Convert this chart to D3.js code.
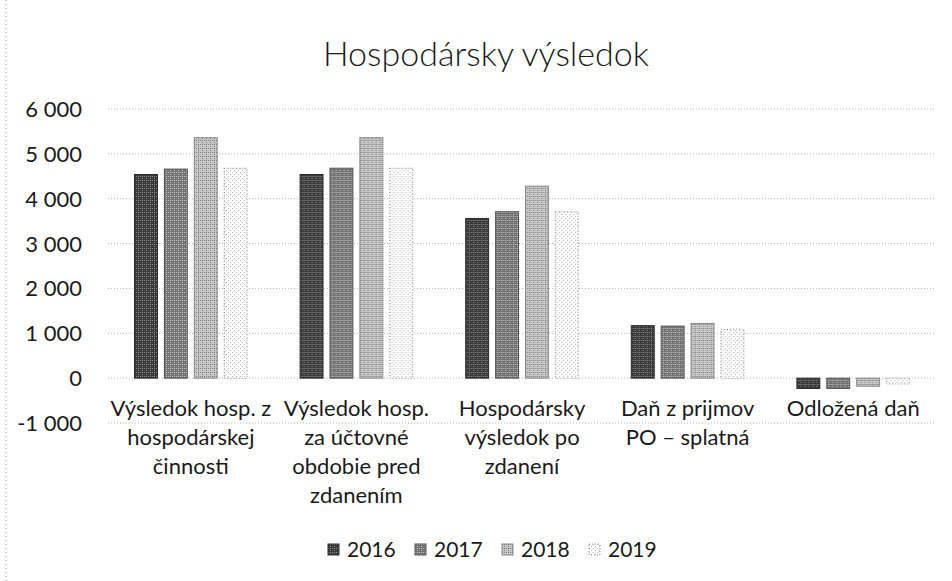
<!DOCTYPE html>
<html>
  <head>
    <meta charset="utf-8">
    <title>Hospodársky výsledok</title>
    <script src="https://cdnjs.cloudflare.com/ajax/libs/d3/7.8.5/d3.min.js"></script>
    <style>
      body { margin: 0; background: #fff; }
      text { font-family: Lato, "Open Sans", sans-serif; fill: #1a1a1a; }
      .grid line { stroke: #b5b5b5; stroke-dasharray: 1,2; }
    </style>
  </head>
  <body>
    <div id="chart"></div>
    <script>
      // data
      var years = ['2016', '2017', '2018', '2019'];
      var categoryLines = [
        ['Výsledok hosp. z', 'hospodárskej', 'činnosti'],
        ['Výsledok hosp.', 'za účtovné', 'obdobie pred', 'zdanením'],
        ['Hospodársky', 'výsledok po', 'zdanení'],
        ['Daň z prijmov', 'PO – splatná'],
        ['Odložená daň']
      ];
      var values2016 = [4540, 4540, 3560, 1170, -230];
      var values2017 = [4660, 4680, 3710, 1160, -230];
      var values2018 = [5360, 5360, 4280, 1220, -180];
      var values2019 = [4680, 4680, 3710, 1090, -130];
      var yTicks = [-1000, 0, 1000, 2000, 3000, 4000, 5000, 6000];

      var width = 952, height = 581;
      var plotLeft = 108, plotRight = 936, plotTop = 109, plotBottom = 423;

      var series = [values2016, values2017, values2018, values2019];
      var categories = categoryLines.map(function(l) { return l.join(' '); });

      var svg = d3.select('#chart').append('svg')
        .attr('width', width)
        .attr('height', height);

      // scan-like textures for the four years
      var defs = svg.append('defs');
      var pats = [
        { base: '#3a3a3a', dot: '#8c8c8c' },
        { base: '#737373', dot: '#c4c4c4' },
        { base: '#c6c6c6', dot: '#7c7c7c' },
        { base: '#ffffff', dot: '#b0b0b0' }
      ];
      pats.forEach(function(p, i) {
        var pat = defs.append('pattern')
          .attr('id', 'pat' + i)
          .attr('patternUnits', 'userSpaceOnUse')
          .attr('width', 4).attr('height', 4);
        pat.append('rect').attr('width', 4).attr('height', 4).attr('fill', p.base);
        pat.append('rect').attr('x', 0).attr('y', 0).attr('width', 1).attr('height', 1).attr('fill', p.dot);
        pat.append('rect').attr('x', 2).attr('y', 2).attr('width', 1).attr('height', 1).attr('fill', p.dot);
        if (i < 3) {
          pat.append('rect').attr('x', 2).attr('y', 0).attr('width', 1).attr('height', 1).attr('fill', p.dot);
        }
      });
      var strokes = ['#2a2a2a', '#555', '#888', '#8a8a8a'];

      // chart border (only the left edge shows on the scan)
      svg.append('line')
        .attr('x1', 6).attr('x2', 6).attr('y1', 0).attr('y2', height)
        .attr('stroke', '#9a9a9a').attr('stroke-dasharray', '1,3');

      var x0 = d3.scaleBand().domain(categories).range([plotLeft, plotRight]);
      var x1 = d3.scaleBand().domain(years)
        .range([x0.bandwidth() * 0.16, x0.bandwidth() * 0.84])
        .paddingInner(0.233);
      var y = d3.scaleLinear().domain([-1000, 6000]).range([plotBottom, plotTop]);

      var fmt = d3.formatLocale({ decimal: ',', thousands: ' ', grouping: [3], currency: ['', ''], minus: '-' }).format(',');

      // gridlines
      svg.append('g').attr('class', 'grid')
        .selectAll('line').data(yTicks).enter().append('line')
        .attr('x1', plotLeft).attr('x2', plotRight)
        .attr('y1', function(d) { return y(d); })
        .attr('y2', function(d) { return y(d); });

      // y labels
      svg.append('g').selectAll('text').data(yTicks).enter().append('text')
        .attr('x', 82)
        .attr('y', function(d) { return y(d) + 8; })
        .attr('text-anchor', 'end')
        .style('font-size', '22px')
        .text(fmt);

      // bars
      var groups = svg.append('g').selectAll('g').data(categories).enter().append('g')
        .attr('transform', function(d) { return 'translate(' + x0(d) + ',0)'; });

      groups.selectAll('rect')
        .data(function(c, ci) {
          return years.map(function(yr, si) { return { year: yr, si: si, v: series[si][ci] }; });
        })
        .enter().append('rect')
        .attr('x', function(d) { return x1(d.year); })
        .attr('width', x1.bandwidth())
        .attr('y', function(d) { return y(Math.max(0, d.v)); })
        .attr('height', function(d) { return Math.abs(y(d.v) - y(0)); })
        .attr('fill', function(d) { return 'url(#pat' + d.si + ')'; })
        .attr('stroke', function(d) { return strokes[d.si]; })
        .attr('stroke-width', 1)
        .attr('stroke-dasharray', function(d) { return d.si === 3 ? '1,2' : null; });

      // category labels, wrapped as on the picture
      var cat = svg.append('g').selectAll('text').data(categoryLines).enter().append('text')
        .attr('x', function(d, i) { return x0(categories[i]) + x0.bandwidth() / 2; })
        .attr('y', 416)
        .attr('text-anchor', 'middle')
        .style('font-size', '22px');
      cat.selectAll('tspan').data(function(d) { return d; }).enter().append('tspan')
        .attr('x', function() { return d3.select(this.parentNode).attr('x'); })
        .attr('dy', function(d, i) { return i === 0 ? 0 : 29; })
        .text(function(d) { return d; });

      // title
      svg.append('text')
        .attr('x', 486).attr('y', 66)
        .attr('text-anchor', 'middle')
        .style('font-size', '34px')
        .style('font-weight', 300)
        .text('Hospodársky výsledok');

      // legend
      var legend = svg.append('g').selectAll('g').data(years).enter().append('g')
        .attr('transform', function(d, i) { return 'translate(' + (328 + i * 87) + ',544)'; });
      legend.append('rect')
        .attr('width', 11).attr('height', 11)
        .attr('fill', function(d, i) { return 'url(#pat' + i + ')'; })
        .attr('stroke', function(d, i) { return strokes[i]; })
        .attr('stroke-dasharray', function(d, i) { return i === 3 ? '1,2' : null; });
      legend.append('text')
        .attr('x', 19).attr('y', 13)
        .style('font-size', '21px')
        .text(function(d) { return d; });
    </script>
  </body>
</html>
